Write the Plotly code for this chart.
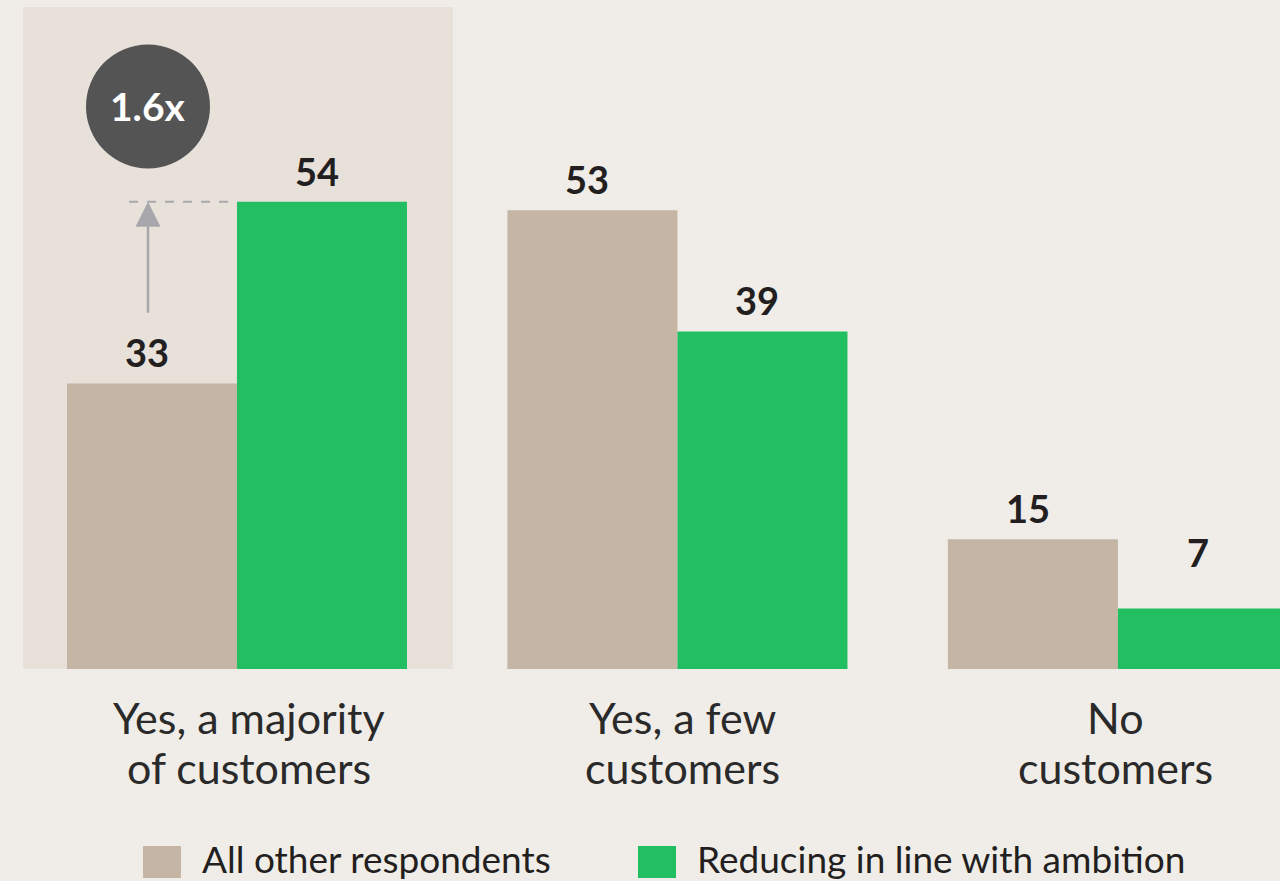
import plotly.graph_objects as go

# ---- data ----
categories = ["Yes, a majority<br>of customers", "Yes, a few<br>customers", "No<br>customers"]
series_names = ["All other respondents", "Reducing in line with ambition"]
other_values = [33, 53, 15]
ambition_values = [54, 39, 7]
label_extra_shift = [[0, 0, 0], [0, 0, 25]]  # pixel nudges for value labels
category_xshift = [12, 5, -2]                 # pixel nudges for category labels

# ---- style ----
BG = "#F0EDE8"
HILITE = "#E8E1DA"
TAN = "#C5B5A5"
GREEN = "#21BF61"
DARK = "#231F20"
FONT = "Lato"

W, H = 1280, 881
B = 212  # bottom margin
PLOT_H = H - B
X_RANGE = [-0.538, 2.368]
Y_RANGE = [0, 77.3]

x_idx = list(range(len(categories)))
fig = go.Figure()
colors = [TAN, GREEN]
all_vals = [other_values, ambition_values]
for name, vals, col in zip(series_names, all_vals, colors):
    fig.add_trace(go.Bar(x=x_idx, y=vals, name=name, marker=dict(color=col, line=dict(width=0)),
                         showlegend=False, hoverinfo="skip"))

# highlight box behind first category
fig.add_shape(type="rect", xref="x", yref="y", x0=-0.486, x1=0.49, y0=0, y1=76.5,
              fillcolor=HILITE, line=dict(width=0), layer="below")

# value labels
bar_offset = 0.193  # half of a bar width in category units
for s, vals in enumerate(all_vals):
    off = -bar_offset if s == 0 else bar_offset
    for i, v in enumerate(vals):
        fig.add_annotation(x=i + off, y=v, xref="x", yref="y", text=f"<b>{v}</b>",
                           showarrow=False, yanchor="bottom", xshift=-5,
                           yshift=6 + label_extra_shift[s][i],
                           font=dict(family=FONT, size=38, color=DARK))

# category labels (one annotation per line for tighter line spacing)
for i, cat in enumerate(categories):
    for j, line in enumerate(cat.split("<br>")):
        fig.add_annotation(x=i, y=0, xref="x", yref="y", text=line, showarrow=False,
                           yanchor="top", yshift=-21 - 50 * j, xshift=category_xshift[i],
                           font=dict(family=FONT, size=43, color="#2A2A2A"))

# ratio callout on first category
ratio = ambition_values[0] / other_values[0]
ax_x = -0.202
fig.add_shape(type="line", xref="x", yref="y", x0=-0.245, x1=0, y0=ambition_values[0], y1=ambition_values[0],
              line=dict(color="#A8A8AC", width=2, dash="dash"))
fig.add_annotation(x=ax_x, y=ambition_values[0], ax=ax_x, ay=other_values[0] + 8.0,
                   xref="x", yref="y", axref="x", ayref="y", text="", showarrow=True,
                   arrowhead=2, arrowsize=2.0, arrowwidth=2.5, arrowcolor="#A8A8AC")
fig.add_shape(type="circle", xref="x", yref="y", xsizemode="pixel", ysizemode="pixel",
              xanchor=ax_x, yanchor=65.0, x0=-62, x1=62, y0=-62, y1=62,
              fillcolor="#545454", line=dict(width=0))
fig.add_annotation(x=ax_x, y=65.0, xref="x", yref="y", text=f"<b>{ratio:.1f}x</b>",
                   showarrow=False, font=dict(family=FONT, size=39, color="white"))

# custom legend
legend_x = [143, 638]
for name, col, lx in zip(series_names, colors, legend_x):
    fig.add_shape(type="rect", xref="paper", yref="paper",
                  x0=lx / W, x1=(lx + 38) / W,
                  y0=(PLOT_H - 878) / PLOT_H, y1=(PLOT_H - 846) / PLOT_H,
                  fillcolor=col, line=dict(width=0))
    fig.add_annotation(xref="paper", yref="paper", x=(lx + 57) / W, y=(PLOT_H - 858) / PLOT_H,
                       text=name, showarrow=False, xanchor="left", yanchor="middle",
                       font=dict(family=FONT, size=37, color=DARK))

fig.update_layout(
    width=W, height=H, margin=dict(l=0, r=0, t=0, b=B),
    paper_bgcolor=BG, plot_bgcolor=BG,
    barmode="group", bargap=0.228, bargroupgap=0,
    xaxis=dict(range=X_RANGE, showgrid=False, zeroline=False, showline=False,
               showticklabels=False, ticks=""),
    yaxis=dict(range=Y_RANGE, visible=False, showgrid=False, zeroline=False),
)

fig.write_html("out.html")
